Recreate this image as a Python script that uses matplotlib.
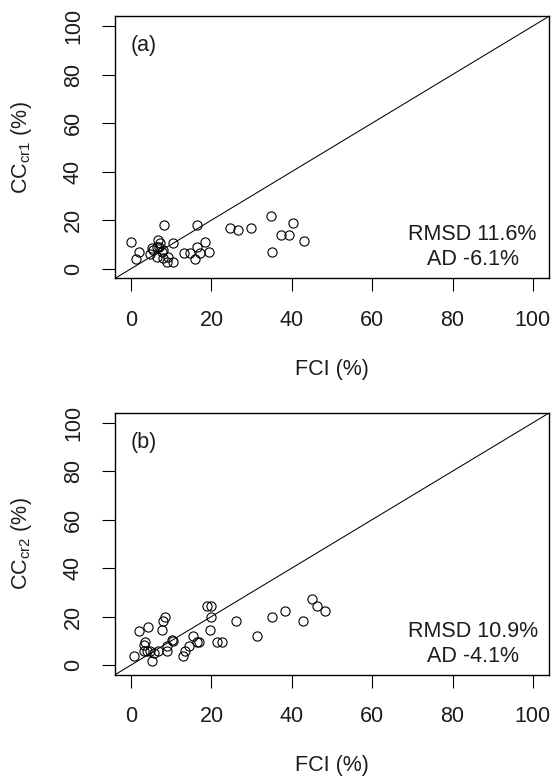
import matplotlib
matplotlib.use('Agg')
import matplotlib.pyplot as plt

# FCI vs CC scatter
a_fci = [0.0, 2.0, 1.2, 4.7, 5.5, 6.8, 7.2, 6.4, 7.6, 6.5, 8.0, 8.9, 10.5, 9.3,
         10.5, 8.3, 5.1, 7.0, 7.9, 13.1, 14.6, 15.9, 16.3, 17.1, 18.3, 19.3,
         16.3, 24.7, 26.7, 29.8, 34.7, 35.0, 37.4, 39.4, 40.4, 43.1]
a_cc = [11.1, 6.7, 4.0, 5.9, 7.7, 11.8, 10.4, 4.9, 7.0, 9.0, 4.3, 2.9, 2.9, 4.9,
        10.4, 17.8, 8.4, 8.8, 7.7, 6.6, 6.6, 3.8, 8.8, 6.6, 11.1, 6.7,
        17.8, 16.6, 16.0, 16.6, 21.8, 6.7, 14.0, 14.0, 18.9, 11.6]

b_fci = [0.8, 2.0, 4.3, 3.5, 3.2, 3.3, 4.7, 5.3, 6.6, 7.6, 8.0, 8.4, 9.0, 9.0,
         10.1, 10.5, 12.8, 13.4, 14.4, 15.3, 16.4, 16.9, 18.8, 20.0, 20.0, 19.6,
         21.4, 22.7, 26.0, 31.4, 35.0, 38.4, 42.7, 45.0, 46.2, 48.2, 3.9, 5.8]
b_cc = [3.8, 14.0, 15.8, 9.5, 8.1, 5.9, 5.9, 1.7, 5.9, 14.3, 18.2, 19.9, 5.6, 7.7,
        10.5, 9.8, 3.8, 5.9, 7.7, 11.9, 9.7, 9.7, 24.5, 24.5, 20.0, 14.3,
        9.7, 9.7, 18.2, 11.9, 20.0, 22.1, 18.2, 27.3, 24.5, 22.1, 5.6, 5.0]

ticks = [0, 20, 40, 60, 80, 100]
panels = ['(a)', '(b)']
ylabels = [r'CC$_{\mathrm{cr1}}$ (%)', r'CC$_{\mathrm{cr2}}$ (%)']
stats = [('RMSD 11.6%', 'AD -6.1%'), ('RMSD 10.9%', 'AD -4.1%')]

plt.rcParams['font.family'] = ['Liberation Sans', 'DejaVu Sans']
plt.rcParams['mathtext.fontset'] = 'custom'
plt.rcParams['mathtext.rm'] = 'Liberation Sans'
plt.rcParams['mathtext.it'] = 'Liberation Sans:italic'
plt.rcParams['font.size'] = 15.5
txt = '#1c1c1c'

W, H = 551, 780
fig = plt.figure(figsize=(W / 100, H / 100), dpi=100)

# axes boxes in pixels: (left, top, right, bottom)
boxes = [(115, 16.3, 549, 278.4), (115, 413.0, 549, 674.7)]
data = [(a_fci, a_cc), (b_fci, b_cc)]

for i, (l, t, r, b) in enumerate(boxes):
    ax = fig.add_axes([l / W, 1 - b / H, (r - l) / W, (b - t) / H])
    x, y = data[i]
    ax.plot([-4, 104], [-4, 104], color='black', lw=0.75)
    ax.plot(x, y, 'o', mfc='none', mec='black', ms=6.6, mew=0.8, ls='none')
    ax.set_xlim(-4, 104)
    ax.set_ylim(-4, 104)
    ax.set_xticks(ticks)
    ax.set_yticks(ticks)
    ax.tick_params(length=9.4, width=0.8, pad=13, colors='black',
                   labelcolor=txt)
    ax.tick_params(axis='y', labelrotation=90)
    for lbl in ax.get_yticklabels():
        lbl.set_va('center')
    for s in ax.spines.values():
        s.set_linewidth(1.0)
    ax.text(0, 92, panels[i], ha='left', va='center', color=txt)
    ax.text(85, 13.9, stats[i][0], ha='center', va='center', color=txt)
    ax.text(85, 3.6, stats[i][1], ha='center', va='center', color=txt)

    fig.text(21.7 / W, 1 - (t + b) / 2 / H, ylabels[i], rotation=90,
             ha='center', va='center', color=txt)
    fig.text(332 / W, 1 - (b + 91) / H, 'FCI (%)', ha='center', va='center',
             color=txt)

fig.savefig('out.png', dpi=100)
